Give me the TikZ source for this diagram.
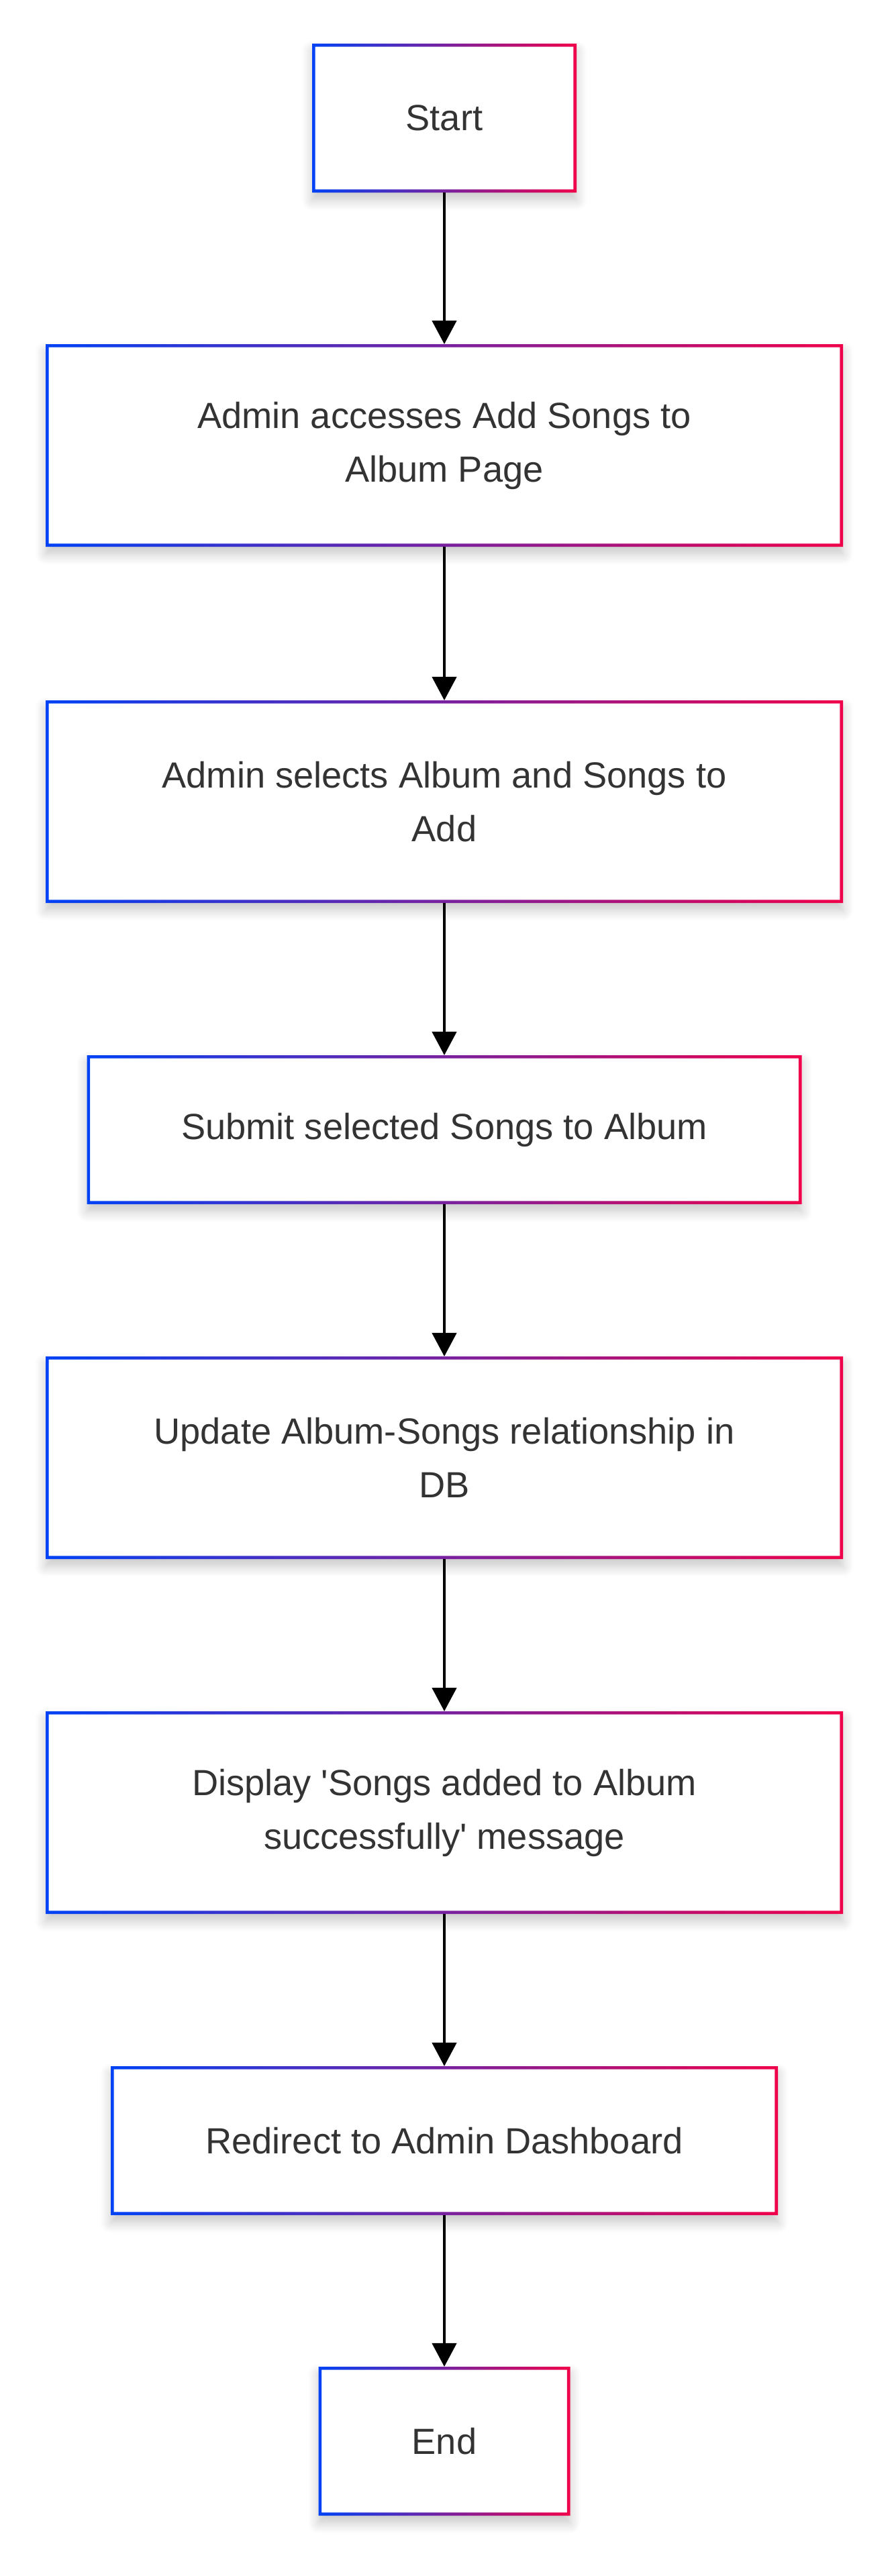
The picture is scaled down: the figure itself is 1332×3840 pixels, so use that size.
\documentclass[tikz,border=0pt]{standalone}
\usepackage{fontspec}
\setmainfont{Liberation Sans}
\usetikzlibrary{arrows.meta,shadows.blur}
\definecolor{gradblue}{HTML}{0042F5}
\definecolor{gradred}{HTML}{F0004A}
\definecolor{textgray}{HTML}{333333}
\begin{document}
\begin{tikzpicture}
[x=0.225pt,y=-0.225pt,>={Triangle[width=8.1pt,length=7.9pt]},
box/.style = {fill=white, inner sep=0pt, outer sep=0pt, align=center, text=textgray,
  font=\fontsize{12.2}{18}\selectfont,
  blur shadow={shadow xshift=0pt, shadow yshift=-2.5pt, shadow blur radius=3.5pt, shadow blur steps=8, shadow opacity=22}},
arr/.style = {->, draw=black, line width=1.05pt},]

\def\px{0.225pt}
\def\bw{1.05pt}
\useasboundingbox (0,0) rectangle (1332,3840);
\node (start) at (662,176)[box, minimum width=394*\px, minimum height=222*\px] {Start};
\node (access) at (662,664)[box, minimum width=1188*\px, minimum height=302*\px] {Admin accesses Add Songs to\\Album Page};
\node (select) at (662,1195)[box, minimum width=1188*\px, minimum height=302*\px] {Admin selects Album and Songs to\\Add};
\node (submit) at (662,1684)[box, minimum width=1065*\px, minimum height=222*\px] {Submit selected Songs to Album};
\node (update) at (662,2173)[box, minimum width=1188*\px, minimum height=302*\px] {Update Album-Songs relationship in\\DB};
\node (display) at (662,2702)[box, minimum width=1188*\px, minimum height=302*\px] {Display \textquotesingle Songs added to Album\\successfully\textquotesingle{} message};
\node (redirect) at (662,3191)[box, minimum width=994*\px, minimum height=222*\px] {Redirect to Admin Dashboard};
\node (end) at (662,3639)[box, minimum width=375*\px, minimum height=222*\px] {End};
\foreach \n in {start,access,select,submit,update,display,redirect,end}
  \shade[left color=gradblue, right color=gradred, even odd rule] (\n.south west) rectangle (\n.north east)
    ([shift={(\bw,\bw)}]\n.south west) rectangle ([shift={(-\bw,-\bw)}]\n.north east);
\draw[arr] (start)--(access);
\draw[arr] (access)--(select);
\draw[arr] (select)--(submit);
\draw[arr] (submit)--(update);
\draw[arr] (update)--(display);
\draw[arr] (display)--(redirect);
\draw[arr] (redirect)--(end);
\end{tikzpicture}
\end{document}
